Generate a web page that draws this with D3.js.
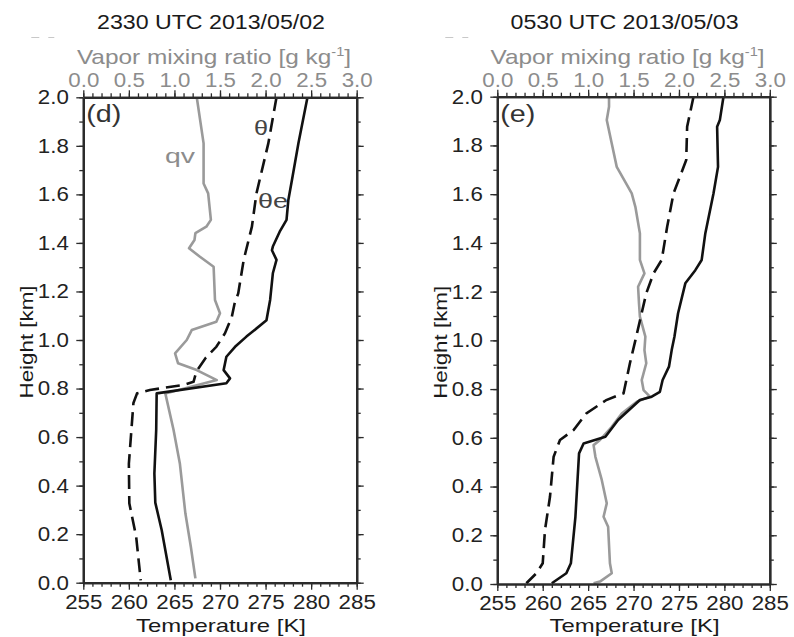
<!DOCTYPE html>
<html>
<head>
<meta charset="utf-8">
<script src="https://cdn.jsdelivr.net/npm/d3@7"></script>
<style>
  html, body { margin: 0; padding: 0; background: #fff; }
  svg { display: block; }
  text { font-family: "Liberation Sans", Arial, Helvetica, sans-serif; }
</style>
</head>
<body>
<svg id="chart" width="794" height="637"></svg>
<script>
// ---------------- data ----------------
const titles = ["2330 UTC 2013/05/02", "0530 UTC 2013/05/03"];
const panelLabels = ["(d)", "(e)"];
const tempTicks = [255, 260, 265, 270, 275, 280, 285];
const qvTicks = [0.0, 0.5, 1.0, 1.5, 2.0, 2.5, 3.0];
const heightTicks = [0.0, 0.2, 0.4, 0.6, 0.8, 1.0, 1.2, 1.4, 1.6, 1.8, 2.0];

// panel (d): 2330 UTC 2013/05/02
const dThetaEH = [2.0,1.81,1.66,1.577,1.495,1.45,1.385,1.37,1.33,1.275,1.165,1.081,1.014,0.972,0.931,0.876,0.842,0.822,0.78,0.63,0.45,0.33,0.217,0.01];
const dThetaE  = [279.6,278.6,277.9,277.5,277.3,276.6,275.8,275.7,276.2,275.8,275.5,275.1,272.9,271.65,270.7,270.4,271.1,270.7,263.05,263.0,262.8,262.9,263.6,264.6];
const dThetaH  = [2.0,1.81,1.604,1.467,1.33,1.192,1.15,1.096,1.028,0.972,0.925,0.87,0.828,0.815,0.794,0.78,0.74,0.49,0.327,0.19,0.01];
const dTheta   = [276.2,275.3,274.0,273.5,272.6,272.0,271.6,271.3,270.55,269.6,268.4,267.4,267.1,266.0,262.3,260.9,260.5,260.0,260.05,260.8,261.3];
const dQvH     = [2.0,1.81,1.645,1.604,1.495,1.467,1.44,1.412,1.378,1.343,1.302,1.165,1.11,1.075,1.041,1.0,0.945,0.904,0.876,0.835,0.78,0.63,0.49,0.286,0.148,0.018];
const dQv      = [1.245,1.32,1.32,1.37,1.40,1.35,1.23,1.22,1.16,1.28,1.43,1.445,1.50,1.46,1.19,1.135,1.007,1.04,1.245,1.465,0.90,0.99,1.06,1.12,1.18,1.23];

// panel (e): 0530 UTC 2013/05/03
const eThetaEH = [2.0,1.904,1.877,1.712,1.603,1.439,1.33,1.288,1.234,1.111,1.015,0.96,0.892,0.837,0.789,0.769,0.755,0.673,0.604,0.577,0.536,0.276,0.085,0.044,0.003];
const eThetaE  = [279.9,279.5,279.2,279.3,278.8,277.9,277.5,276.8,275.7,274.9,274.5,274.2,273.9,273.2,272.9,272.0,270.7,268.3,266.9,264.5,264.0,263.6,263.1,262.6,261.0];
const eThetaH  = [2.0,1.877,1.74,1.603,1.466,1.33,1.275,1.193,1.0,0.906,0.783,0.755,0.70,0.632,0.591,0.522,0.358,0.222,0.085,0.044,0.003];
const eTheta   = [276.6,275.9,275.8,274.4,273.7,273.1,272.2,271.4,270.2,269.6,268.9,267.0,264.8,263.4,261.9,261.2,260.8,260.25,260.0,259.3,258.2];
const eQvH     = [2.0,1.959,1.904,1.808,1.712,1.603,1.548,1.439,1.33,1.275,1.22,1.152,1.097,1.015,0.96,0.906,0.837,0.796,0.769,0.748,0.70,0.645,0.591,0.57,0.522,0.427,0.331,0.276,0.235,0.085,0.044,0.01,0.003];
const eQv      = [1.23,1.23,1.205,1.26,1.315,1.48,1.52,1.57,1.57,1.62,1.55,1.56,1.57,1.63,1.62,1.64,1.59,1.61,1.68,1.535,1.37,1.26,1.13,1.06,1.08,1.15,1.205,1.17,1.22,1.24,1.26,1.13,1.06];

// ---------------- layout ----------------
const panels = [
  { x0: 83.3, x1: 356.7, y0: 582.7, y1: 97.3, title: titles[0], label: panelLabels[0],
    thetaE: [dThetaEH, dThetaE], theta: [dThetaH, dTheta], qv: [dQvH, dQv], inline: true },
  { x0: 497.3, x1: 769.8, y0: 584, y1: 96.7, title: titles[1], label: panelLabels[1],
    thetaE: [eThetaEH, eThetaE], theta: [eThetaH, eTheta], qv: [eQvH, eQv], inline: false }
];

const svg = d3.select("#chart");
const AX = "#2b2b2b", GRAY = "#8c8c8c", LINEGRAY = "#9a9a9a";
const TFS = 20, SX = 1.115;   // tick label font size and horizontal stretch

function zip(h, v) { return h.map((d, i) => ({ h: d, v: v[i] })); }

panels.forEach(p => {
  const x = d3.scaleLinear().domain([255, 285]).range([p.x0, p.x1]);
  const q = d3.scaleLinear().domain([0, 3]).range([p.x0, p.x1]);
  const y = d3.scaleLinear().domain([0, 2]).range([p.y0, p.y1]);
  const g = svg.append("g");
  const cx = (p.x0 + p.x1) / 2;

  // title
  g.append("text").attr("x", cx - 9).attr("y", 28.5).attr("text-anchor", "middle")
    .attr("font-size", 19.5).attr("fill", "#1a1a1a")
    .attr("textLength", 228).attr("lengthAdjust", "spacingAndGlyphs").text(p.title);

  // faint marks near title
  [[-52, -44], [-35, -29]].forEach(s => {
    g.append("line").attr("x1", p.x0 + s[0]).attr("x2", p.x0 + s[1])
      .attr("y1", 37.5).attr("y2", 37.5).attr("stroke", "#c8c8c8").attr("stroke-width", 1);
  });

  // vapor label
  const vl = g.append("text").attr("transform", `translate(${cx - 6},64) scale(1.22,1)`)
    .attr("text-anchor", "middle").attr("font-size", 20).attr("fill", GRAY);
  vl.append("tspan").text("Vapor mixing ratio [g kg");
  vl.append("tspan").attr("dy", -8).attr("font-size", 12).text("-1");
  vl.append("tspan").attr("dy", 8).text("]");

  // data lines
  const line = d3.line().x(d => x(d.v)).y(d => y(d.h));
  const qline = d3.line().x(d => q(d.v)).y(d => y(d.h));
  g.append("path").datum(zip(p.qv[0], p.qv[1])).attr("d", qline)
    .attr("fill", "none").attr("stroke", LINEGRAY).attr("stroke-width", 2.6).attr("stroke-linejoin", "round");
  g.append("path").datum(zip(p.theta[0], p.theta[1])).attr("d", line)
    .attr("fill", "none").attr("stroke", "#111").attr("stroke-width", 2.6)
    .attr("stroke-dasharray", "14,7");
  g.append("path").datum(zip(p.thetaE[0], p.thetaE[1])).attr("d", line)
    .attr("fill", "none").attr("stroke", "#111").attr("stroke-width", 2.6).attr("stroke-linejoin", "round");

  // axes
  function styleAxis(sel) {
    sel.selectAll("path.domain").attr("stroke", AX).attr("stroke-width", 2.2);
    sel.selectAll(".tick line").attr("stroke", AX).attr("stroke-width", 1.3);
    sel.selectAll("text").attr("font-size", TFS).attr("fill", "#222")
      .attr("font-family", '"Liberation Sans", Arial, sans-serif');
  }
  const minorT = d3.range(255, 285.01, 1);
  const minorH = d3.range(0, 2.001, 0.1);

  // bottom
  g.append("g").attr("transform", `translate(0,${p.y0})`)
    .call(d3.axisBottom(x).tickValues(minorT).tickSize(4).tickSizeOuter(0).tickFormat(""))
    .call(styleAxis);
  const gb = g.append("g").attr("transform", `translate(0,${p.y0})`)
    .call(d3.axisBottom(x).tickValues(tempTicks).tickSize(7).tickSizeOuter(0).tickPadding(5).tickFormat(d3.format("d")))
    .call(styleAxis);
  gb.selectAll("text").attr("transform", `scale(${SX},1)`);
  // top (vapor)
  g.append("g").attr("transform", `translate(0,${p.y1})`)
    .call(d3.axisTop(q).tickValues(d3.range(0, 3.001, 0.1)).tickSize(4).tickSizeOuter(0).tickFormat(""))
    .call(styleAxis);
  const gt = g.append("g").attr("transform", `translate(0,${p.y1})`)
    .call(d3.axisTop(q).tickValues(qvTicks).tickSize(7).tickSizeOuter(0).tickPadding(3).tickFormat(d3.format(".1f")))
    .call(styleAxis);
  gt.selectAll("text").attr("fill", GRAY).attr("transform", `scale(${SX},1)`);
  // left
  g.append("g").attr("transform", `translate(${p.x0},0)`)
    .call(d3.axisLeft(y).tickValues(minorH).tickSize(4).tickSizeOuter(0).tickFormat(""))
    .call(styleAxis);
  const gl = g.append("g").attr("transform", `translate(${p.x0},0)`)
    .call(d3.axisLeft(y).tickValues(heightTicks).tickSize(7).tickSizeOuter(0).tickPadding(7).tickFormat(d3.format(".1f")))
    .call(styleAxis);
  gl.selectAll("text").attr("x", -14.5 / SX).attr("transform", `scale(${SX},1)`);
  // right
  g.append("g").attr("transform", `translate(${p.x1},0)`)
    .call(d3.axisRight(y).tickValues(minorH).tickSize(4).tickSizeOuter(0).tickFormat(""))
    .call(styleAxis);
  g.append("g").attr("transform", `translate(${p.x1},0)`)
    .call(d3.axisRight(y).tickValues(heightTicks).tickSize(7).tickSizeOuter(0).tickFormat(""))
    .call(styleAxis);

  // axis titles
  g.append("text").attr("x", cx + 1).attr("y", 632).attr("text-anchor", "middle")
    .attr("font-size", 19).attr("fill", "#1a1a1a")
    .attr("textLength", 170).attr("lengthAdjust", "spacingAndGlyphs").text("Temperature [K]");
  g.append("text").attr("transform", `translate(${p.x0 - 50},${(p.y0 + p.y1) / 2 + 2}) rotate(-90)`)
    .attr("text-anchor", "middle").attr("font-size", 19).attr("fill", "#1a1a1a")
    .attr("textLength", 113).attr("lengthAdjust", "spacingAndGlyphs").text("Height [km]");

  // panel label
  g.append("text").attr("transform", `translate(${p.x0 + 3},122) scale(1.25,1)`)
    .attr("font-size", 23).attr("fill", "#333").text(p.label);

  if (p.inline) {
    g.append("text").attr("x", 165).attr("y", 163).attr("font-size", 20).attr("fill", GRAY)
      .attr("textLength", 30).attr("lengthAdjust", "spacingAndGlyphs").text("qv");
    g.append("text").attr("x", 254).attr("y", 135).attr("font-size", 20).attr("fill", "#444")
      .attr("textLength", 14).attr("lengthAdjust", "spacingAndGlyphs").text("θ");
    g.append("text").attr("x", 258).attr("y", 208).attr("font-size", 20).attr("fill", "#444")
      .attr("textLength", 30).attr("lengthAdjust", "spacingAndGlyphs").text("θe");
  }
});
</script>
</body>
</html>
